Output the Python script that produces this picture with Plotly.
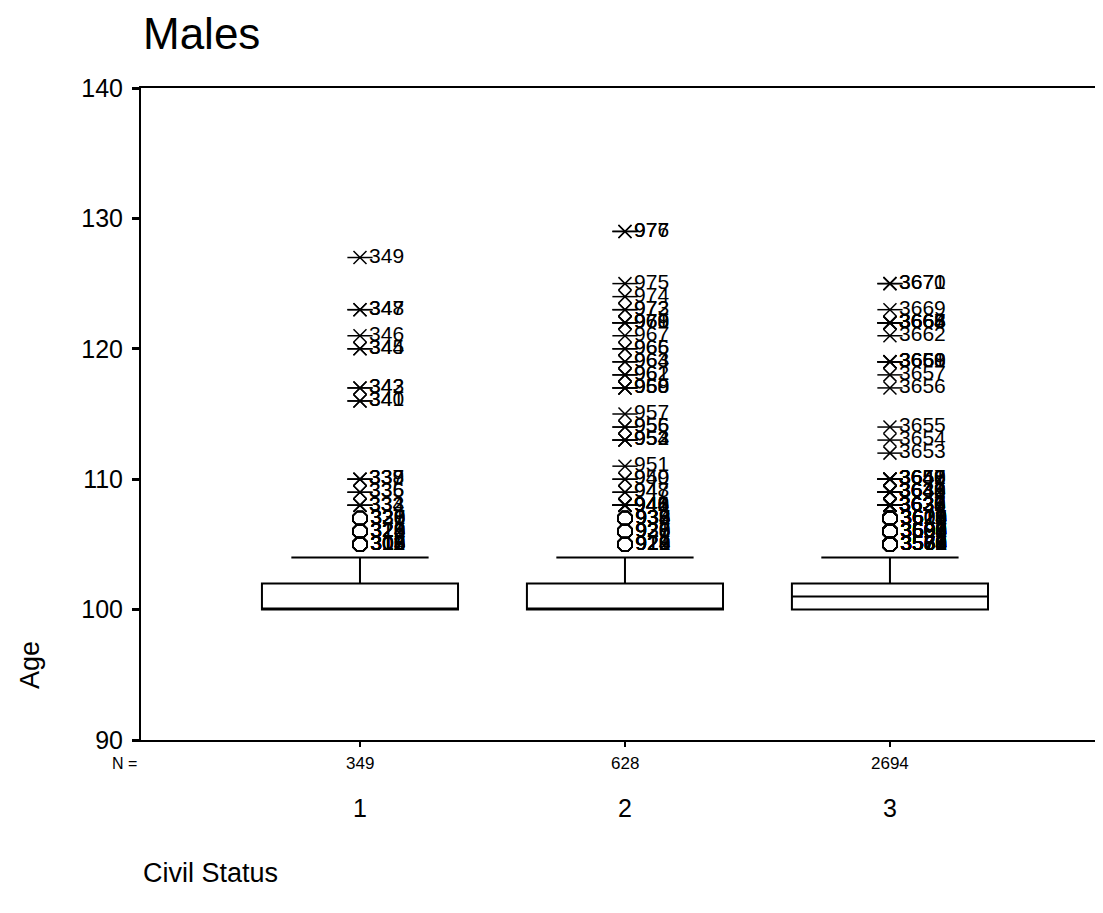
import plotly.graph_objects as go

# ---- data ----
groups = [1, 2, 3]
n_cases = [349, 628, 2694]
q1 = [100, 100, 100]
median = [100, 100, 101]
q3 = [102, 102, 102]
lower_whisker = [100, 100, 100]
upper_whisker = [104, 104, 104]

g1_outlier_ages = [127, 123, 121, 120, 117, 116, 110, 109, 108, 107, 106, 105]
g1_outlier_counts = [1, 2, 1, 2, 2, 2, 3, 2, 3, 6, 8, 13]

g2_outlier_ages = [129, 125, 124, 123, 122, 121, 120, 119, 118, 117, 115, 114, 113, 111, 110, 109, 108, 107, 106, 105]
g2_outlier_counts = [2, 1, 1, 2, 4, 1, 2, 2, 2, 3, 1, 2, 3, 1, 2, 2, 7, 8, 7, 7]

g3_outlier_ages = [125, 123, 122, 121, 119, 118, 117, 114, 113, 112, 110, 109, 108, 107, 106, 105]
g3_outlier_counts = [2, 1, 6, 1, 4, 1, 1, 1, 1, 1, 7, 8, 12, 18, 23, 25]

outlier_ages = [g1_outlier_ages, g2_outlier_ages, g3_outlier_ages]
outlier_counts = [g1_outlier_counts, g2_outlier_counts, g3_outlier_counts]

title = "Males"
y_title = "Age"
x_title = "Civil Status"
FONT = "Liberation Sans, Arial, sans-serif"

fig = go.Figure()

box_width = 0.74
for i, g in enumerate(groups):
    fig.add_trace(go.Box(
        x=[g], q1=[q1[i]], median=[median[i]], q3=[q3[i]],
        lowerfence=[lower_whisker[i]], upperfence=[upper_whisker[i]],
        width=box_width, whiskerwidth=0.7, boxpoints=False,
        fillcolor="white", line=dict(color="black", width=2),
        hoverinfo="skip", showlegend=False,
    ))

# outliers: case ids numbered consecutively across groups, highest age = highest id
top_id = 0
for i, g in enumerate(groups):
    top_id += n_cases[i]
    extreme_limit = q3[i] + 3 * (q3[i] - q1[i])
    cid = top_id
    sx, sy, st, cx, cy, ct = [], [], [], [], [], []
    for age, cnt in zip(outlier_ages[i], outlier_counts[i]):
        for _ in range(cnt):
            if age >= extreme_limit:
                sx.append(g); sy.append(age); st.append(str(cid))
            else:
                cx.append(g); cy.append(age); ct.append(str(cid))
            cid -= 1
    # extremes: X with horizontal bar
    fig.add_trace(go.Scatter(
        x=sx, y=sy, mode="markers", showlegend=False, hoverinfo="skip",
        marker=dict(symbol="line-ew-open", size=18, color="black", line=dict(color="black", width=1.5)),
    ))
    fig.add_trace(go.Scatter(
        x=sx, y=sy, mode="markers+text", text=st, textposition="middle right",
        textfont=dict(family=FONT, size=21, color="black"),
        showlegend=False, hoverinfo="skip",
        marker=dict(symbol="x-thin-open", size=13, color="black", line=dict(color="black", width=1.5)),
    ))
    fig.add_trace(go.Scatter(
        x=cx, y=cy, mode="markers+text", text=ct, textposition="middle right",
        textfont=dict(family=FONT, size=21, color="black"),
        showlegend=False, hoverinfo="skip",
        marker=dict(symbol="octagon-open", size=15, color="black", line=dict(color="black", width=1.5)),
    ))

annotations = [
    dict(text=title, xref="paper", yref="paper", x=0, y=1, xanchor="left", yanchor="middle",
         yshift=55, showarrow=False, font=dict(family=FONT, size=44, color="black")),
    dict(text=x_title, xref="paper", yref="paper", x=0, y=0, xanchor="left", yanchor="middle",
         yshift=-133, showarrow=False, font=dict(family=FONT, size=27, color="black")),
    dict(text=y_title, xref="paper", yref="paper", x=0, y=0, xanchor="center", yanchor="middle",
         xshift=-111, yshift=75, textangle=-90, showarrow=False, font=dict(family=FONT, size=27, color="black")),
    dict(text="N =", xref="paper", yref="paper", x=0, y=0, xanchor="right", yanchor="middle",
         xshift=-2, yshift=-23, showarrow=False, font=dict(family=FONT, size=16, color="black")),
]
for i, g in enumerate(groups):
    annotations.append(dict(text=str(n_cases[i]), xref="x", yref="paper", x=g, y=0, xanchor="center",
                            yanchor="middle", yshift=-23, showarrow=False,
                            font=dict(family=FONT, size=17, color="black")))
    annotations.append(dict(text=str(g), xref="x", yref="paper", x=g, y=0, xanchor="center",
                            yanchor="middle", yshift=-68, showarrow=False,
                            font=dict(family=FONT, size=25, color="black")))

fig.update_layout(
    width=1095, height=905,
    margin=dict(l=133, r=0, t=80, b=173),
    paper_bgcolor="white", plot_bgcolor="white",
    annotations=annotations,
    xaxis=dict(range=[0.1736, 3.804], showgrid=False, zeroline=False, showline=True, mirror=True,
               linecolor="black", linewidth=2, tickvals=groups, showticklabels=False,
               ticks="outside", ticklen=5, tickwidth=2, tickcolor="black"),
    yaxis=dict(range=[90, 140], tickvals=[90, 100, 110, 120, 130, 140], showgrid=False, zeroline=False,
               showline=True, linecolor="black", linewidth=2, ticks="outside", ticklen=7, tickwidth=3,
               tickcolor="black", ticklabelstandoff=4,
               tickfont=dict(family=FONT, size=25, color="black")),
)

fig.write_html("out.html")
